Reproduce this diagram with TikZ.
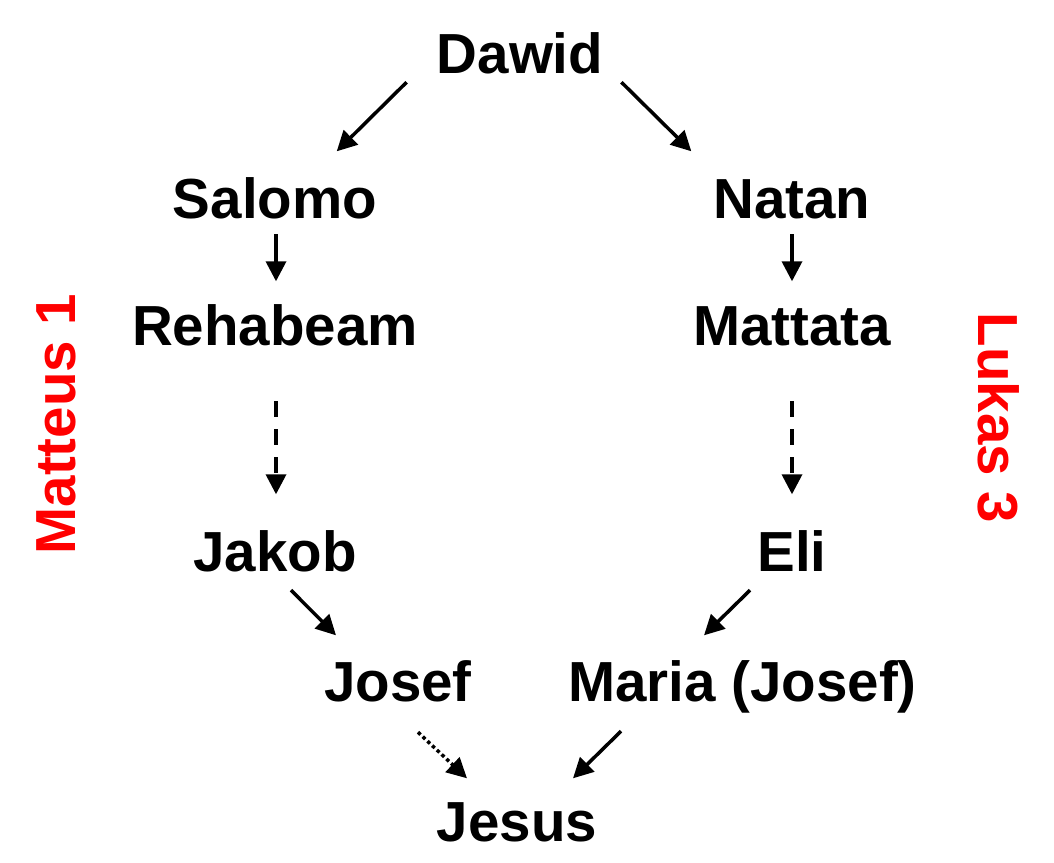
\documentclass[tikz,border=0pt]{standalone}
\usepackage{fontspec}
\setmainfont{Liberation Sans}
\usepackage{tikz}
\usepackage{xcolor}
\usetikzlibrary{arrows.meta,calc}
\definecolor{gospelRed}{RGB}{255,0,0}
\tikzset{
  person/.style={font=\fontsize{56.5}{60}\selectfont\bfseries, inner sep=0pt, text height=40.5pt, text depth=0pt, anchor=base},
  gospel/.style={font=\fontsize{56.5}{60}\selectfont\bfseries, text=gospelRed, inner sep=0pt, anchor=base},
  arrow/.style={-{Triangle[length=20pt,width=20pt]}, line width=3.5pt},
  gap/.style={arrow, dash pattern=on 16pt off 12pt},
  guess/.style={arrow, dash pattern=on 3.5pt off 3pt}
}

\begin{document}
\begin{tikzpicture}[x=1pt,y=-1pt]
  \useasboundingbox (0,0) rectangle (1054,862);

  \node[person] (dawid) at (520,73) {Dawid};
  \node[person] (salomo) at (275,218) {Salomo};
  \node[person] (natan) at (792,218) {Natan};
  \node[person] (rehabeam) at (275,345) {Rehabeam};
  \node[person] (mattata) at (792,345) {Mattata};
  \node[person] (jakob) at (275,571) {Jakob};
  \node[person] (eli) at (792,571) {Eli};
  \node[person] (josef) at (398,701) {Josef};
  \node[person] (maria) at (742.5,701) {Maria (Josef)};
  \node[person] (jesus) at (517,841) {Jesus};

  \node[gospel, rotate=90] (matteus) at (75,424) {Matteus 1};
  \node[gospel, rotate=-90] (lukas) at (978,418) {Lukas 3};

  \draw[arrow] ($(dawid.south west)+(-30,9)$) -- ($(salomo.north east)+(-40.5,-26)$);
  \draw[arrow] ($(dawid.south east)+(18,9)$) -- ($(natan.north west)+(-22,-26)$);
  \draw[arrow] ($(salomo.south)+(1,16)$) -- ($(rehabeam.north)+(1,-23)$);
  \draw[arrow] ($(natan.south)+(0,16)$) -- ($(mattata.north)+(0,-23)$);
  \draw[gap] ($(rehabeam.south)+(1,56)$) -- ($(jakob.north)+(1,-36)$);
  \draw[gap] ($(mattata.south)+(0,56)$) -- ($(eli.north)+(0,-36)$);
  \draw[arrow] ($(jakob.south)+(16,19)$) -- ($(josef.north)+(-62,-25)$);
  \draw[arrow] ($(eli.south)+(-42,19)$) -- ($(maria.north)+(-38.5,-25)$);
  \draw[guess] ($(josef.south)+(20,31)$) -- ($(jesus.north)+(-50,-22)$);
  \draw[arrow] ($(maria.south)+(-121.5,30)$) -- ($(jesus.north)+(56,-22)$);
\end{tikzpicture}
\end{document}
